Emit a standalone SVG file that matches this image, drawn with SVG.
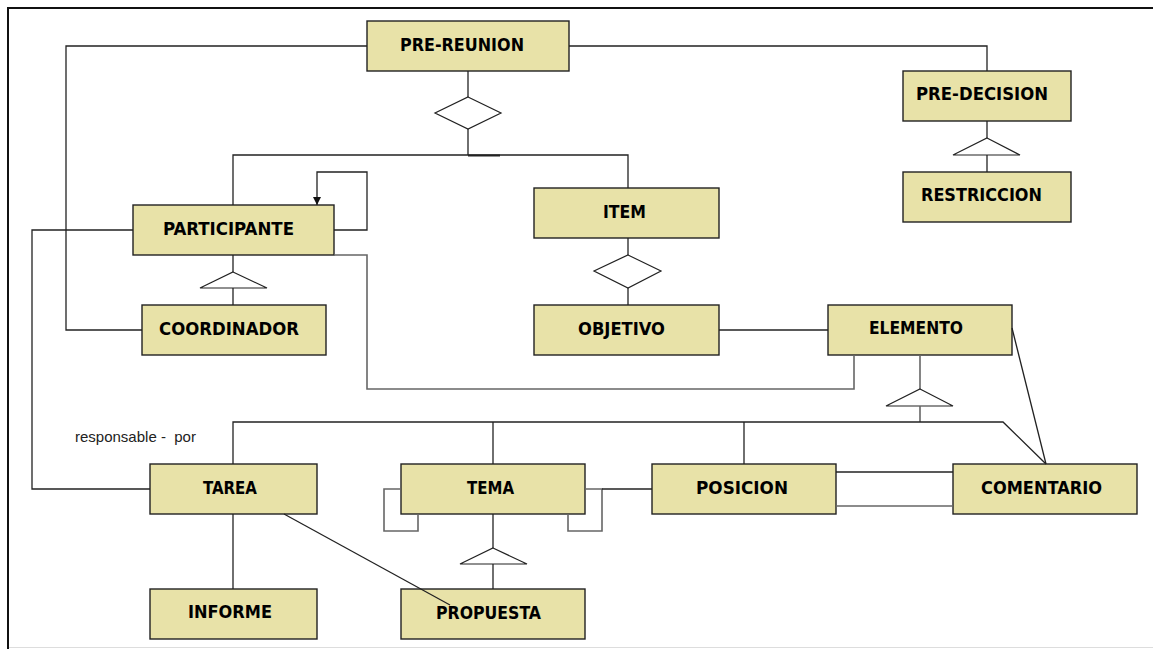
<svg xmlns="http://www.w3.org/2000/svg" width="1153" height="649" viewBox="0 0 1153 649">
<style>
.box{fill:#E8E2A8;stroke:#222;stroke-width:1.4}
.lbl{font-family:"DejaVu Sans Condensed","DejaVu Sans",sans-serif;font-stretch:condensed;font-weight:bold;font-size:18px;fill:#000;text-anchor:middle}
.c{fill:none;stroke:#222;stroke-width:1.3}
.g{fill:none;stroke:#666;stroke-width:1.6}
.sym{fill:#fff;stroke:#222;stroke-width:1.2}
.note{font-family:"Liberation Sans",Arial,sans-serif;font-size:15px;fill:#222;white-space:pre}
</style>
<defs>
<marker id="arr" viewBox="0 0 10 10" refX="10" refY="5" markerWidth="8" markerHeight="8" markerUnits="userSpaceOnUse" orient="auto">
<path d="M0,0 L10,5 L0,10 Z" fill="#111"/>
</marker>
</defs>
<rect width="1153" height="649" fill="#fff"/>
<g id="frame">
<line x1="8" y1="8" x2="1153" y2="8" stroke="#111" stroke-width="2"/>
<line x1="8" y1="7" x2="8" y2="649" stroke="#111" stroke-width="2"/>
<line x1="9" y1="647.5" x2="1153" y2="647.5" stroke="#ddd" stroke-width="1"/>
</g>
<g id="n-prereunion"><rect class="box" x="367" y="21" width="202" height="50"/><text class="lbl" x="462" y="51" textLength="124" lengthAdjust="spacingAndGlyphs">PRE-REUNION</text></g>
<g id="n-predecision"><rect class="box" x="903" y="71" width="168" height="50"/><text class="lbl" x="982" y="100" textLength="132" lengthAdjust="spacingAndGlyphs">PRE-DECISION</text></g>
<g id="n-restriccion"><rect class="box" x="903" y="172" width="168" height="50"/><text class="lbl" x="981.5" y="201" textLength="121" lengthAdjust="spacingAndGlyphs">RESTRICCION</text></g>
<g id="n-participante"><rect class="box" x="133" y="205" width="201" height="50"/><text class="lbl" x="228.5" y="235" textLength="131" lengthAdjust="spacingAndGlyphs">PARTICIPANTE</text></g>
<g id="n-coordinador"><rect class="box" x="142" y="305" width="184" height="50"/><text class="lbl" x="229" y="335" textLength="140" lengthAdjust="spacingAndGlyphs">COORDINADOR</text></g>
<g id="n-item"><rect class="box" x="534" y="188" width="185" height="50"/><text class="lbl" x="624.5" y="218" textLength="43" lengthAdjust="spacingAndGlyphs">ITEM</text></g>
<g id="n-objetivo"><rect class="box" x="534" y="305" width="185" height="50"/><text class="lbl" x="621.5" y="335" textLength="87" lengthAdjust="spacingAndGlyphs">OBJETIVO</text></g>
<g id="n-elemento"><rect class="box" x="828" y="305" width="184" height="50"/><text class="lbl" x="916" y="334" textLength="94" lengthAdjust="spacingAndGlyphs">ELEMENTO</text></g>
<g id="n-tarea"><rect class="box" x="150" y="464" width="167" height="50"/><text class="lbl" x="230" y="494" textLength="54" lengthAdjust="spacingAndGlyphs">TAREA</text></g>
<g id="n-tema"><rect class="box" x="401" y="464" width="184" height="50"/><text class="lbl" x="490.5" y="494" textLength="47" lengthAdjust="spacingAndGlyphs">TEMA</text></g>
<g id="n-posicion"><rect class="box" x="652" y="464" width="184" height="50"/><text class="lbl" x="742" y="494" textLength="92" lengthAdjust="spacingAndGlyphs">POSICION</text></g>
<g id="n-comentario"><rect class="box" x="953" y="464" width="184" height="50"/><text class="lbl" x="1041.5" y="494" textLength="121" lengthAdjust="spacingAndGlyphs">COMENTARIO</text></g>
<g id="n-informe"><rect class="box" x="150" y="589" width="167" height="50"/><text class="lbl" x="230" y="618" textLength="84" lengthAdjust="spacingAndGlyphs">INFORME</text></g>
<g id="n-propuesta"><rect class="box" x="401" y="589" width="184" height="50"/><text class="lbl" x="488.5" y="619" textLength="105" lengthAdjust="spacingAndGlyphs">PROPUESTA</text></g>
<g id="connectors">
<polyline class="c" points="367,46 66,46 66,330 142,330"/>
<polyline class="c" points="569,46 987,46 987,71"/>
<line class="c" x1="468" y1="71" x2="468" y2="97"/>
<polygon class="sym" points="468,97 501,113 468,129 435,113"/>
<line class="c" x1="468" y1="129" x2="468" y2="155"/>
<polyline class="c" points="233,205 233,155 628,155 628,188"/>
<line x1="468" y1="155.5" x2="500" y2="155.5" stroke="#222" stroke-width="2"/>
<line class="c" x1="987" y1="121" x2="987" y2="138"/>
<polygon class="sym" points="987,138 1020,155 953,155"/>
<line class="c" x1="987" y1="155" x2="987" y2="172"/>
<polyline class="c" points="334,230 367,230 367,172 317,172 317,205" marker-end="url(#arr)"/>
<polyline class="g" points="334,255 367,255 367,389 854,389 854,355"/>
<polyline class="c" points="133,230 32,230 32,489 150,489"/>
<line class="c" x1="233" y1="255" x2="233" y2="272"/>
<polygon class="sym" points="233,272 267,288 200,288"/>
<line class="c" x1="233" y1="288" x2="233" y2="305"/>
<line class="c" x1="628" y1="238" x2="628" y2="255"/>
<polygon class="sym" points="628,255 661,271 628,288 594,271"/>
<line class="c" x1="628" y1="288" x2="628" y2="305"/>
<line class="c" x1="719" y1="330" x2="828" y2="330"/>
<line class="g" x1="920" y1="355" x2="920" y2="389"/>
<polygon class="sym" points="920,389 953,406 886,406"/>
<line class="g" x1="920" y1="406" x2="920" y2="422"/>
<polyline class="c" points="233,464 233,422 1003,422 1046,464"/>
<line class="c" x1="493" y1="422" x2="493" y2="464"/>
<line class="c" x1="744" y1="422" x2="744" y2="464"/>
<line class="c" x1="1012" y1="328" x2="1046" y2="464"/>
<polyline class="g" points="401,489 384,489 384,531 418,531 418,514"/>
<polyline class="g" points="585,489 602,489 602,531 568,531 568,514"/>
<line class="c" x1="602" y1="489" x2="652" y2="489"/>
<line class="c" x1="836" y1="472" x2="953" y2="472"/>
<line class="g" x1="836" y1="506" x2="953" y2="506"/>
<line class="c" x1="233" y1="514" x2="233" y2="589"/>
<line class="c" x1="284" y1="514" x2="450" y2="605"/>
<line class="c" x1="493" y1="514" x2="493" y2="548"/>
<polygon class="sym" points="493,548 527,564 460,564"/>
<line class="c" x1="493" y1="564" x2="493" y2="589"/>
</g>
<text class="note" x="75" y="442" xml:space="preserve">responsable -  por</text>
</svg>
